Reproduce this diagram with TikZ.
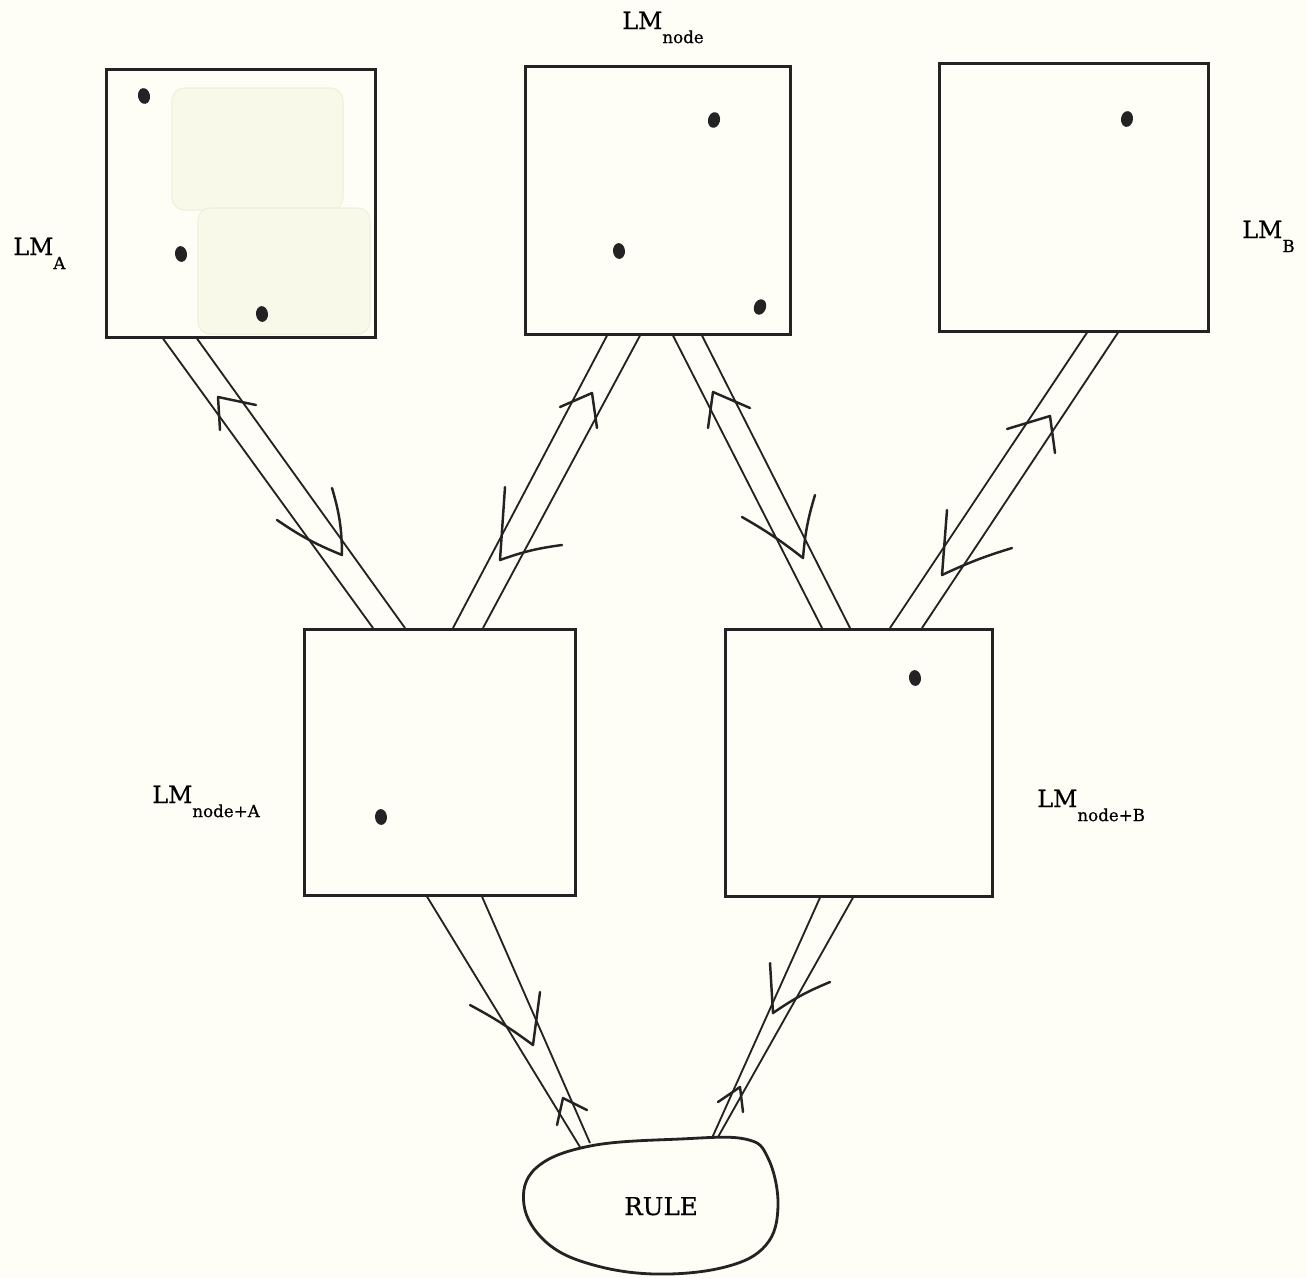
\documentclass[tikz,border=0pt]{standalone}
\usepackage{fontspec}
\setmainfont{DejaVu Serif}
\newfontfamily\tagfont[FakeBold=0.6]{DejaVu Serif}
\usetikzlibrary{calc}
\definecolor{paper}{RGB}{254,254,247}
\definecolor{ink}{RGB}{35,35,35}
\definecolor{tape}{RGB}{249,249,234}
\definecolor{tapeedge}{RGB}{238,240,218}

% label of a language model: large "LM" with a dropped subscript
\newcommand\lmlabel[1]{{\fontsize{13.5}{16}\selectfont LM}\raisebox{-8pt}{\fontsize{9.5}{11}\selectfont #1}}

\begin{document}
\begin{tikzpicture}[x=0.02cm,y=-0.02cm,
  lmbox/.style={draw=ink, line width=1.5pt, anchor=north west, inner sep=0pt},
  shaft/.style={draw=ink, line width=1.05pt},
  chev/.style={draw=ink, line width=1.4pt, line join=round, line cap=round},
  spot/.style={fill=ink},
  lbl/.style={anchor=base west, inner sep=0pt, text=black, font=\tagfont},
  tapestrip/.style={fill=tape, draw=tapeedge, line width=0.6pt, rounded corners=7pt}]

% paper
\fill[paper] (0,0) rectangle (1307,1278);
\useasboundingbox (0,0) rectangle (1307,1278);

% strips of tape inside the first box
\draw[tapestrip] (172,88) rectangle (343,210);
\draw[tapestrip] (198,208) rectangle (370,334);

% boxes
\node[lmbox, minimum width=5.38cm, minimum height=5.36cm] (A)  at (105,68)  {};
\node[lmbox, minimum width=5.30cm, minimum height=5.36cm] (N)  at (524,65)  {};
\node[lmbox, minimum width=5.38cm, minimum height=5.36cm] (B)  at (938,62)  {};
\node[lmbox, minimum width=5.42cm, minimum height=5.32cm] (NA) at (303,628) {};
\node[lmbox, minimum width=5.34cm, minimum height=5.34cm] (NB) at (724,628) {};

% labels
\node[lbl] (labA)  at (13,255)   {\lmlabel{A}};
\node[lbl] (labN)  at (622,29)   {\lmlabel{node}};
\node[lbl] (labB)  at (1242,238) {\lmlabel{B}};
\node[lbl] (labNA) at (152,803)  {\lmlabel{node+A}};
\node[lbl] (labNB) at (1037,807) {\lmlabel{node+B}};

% points inside the boxes
\foreach \p/\r in {(144,96)/10,(181,254)/8,(262,314)/5,
                   (714,120)/-12,(619,251)/5,(760,307)/-20,
                   (1127,119)/-8,(381,817)/4,(915,678)/6}
  \fill[spot] \p ellipse[x radius=3.4pt, y radius=4.5pt, rotate=\r];

% the rule
\draw[ink, line width=1.6pt] plot[smooth cycle, tension=0.65] coordinates
  {(590,1146) (680,1139) (745,1139) (768,1158) (778,1205) (766,1245)
   (725,1267) (655,1274) (590,1264) (546,1242) (524,1205) (536,1168)};
\node[anchor=base, inner sep=0pt, text=black, font=\tagfont\fontsize{14}{16}\selectfont] (rule) at (661,1215) {RULE};

% ends of the connectors on the rule
\coordinate (r1) at (580,1147);
\coordinate (r2) at (590,1143);
\coordinate (r3) at (712,1138);
\coordinate (r4) at (718,1137);

% double-line connectors
\draw[shaft] ($(A.south west)+(58,0)$)  -- ($(NA.north west)+(70,0)$);
\draw[shaft] ($(A.south west)+(92,0)$)  -- ($(NA.north west)+(102,0)$);
\draw[shaft] ($(N.south west)+(83,0)$)  -- ($(NA.north west)+(150,0)$);
\draw[shaft] ($(N.south west)+(116,0)$) -- ($(NA.north west)+(180,0)$);
\draw[shaft] ($(N.south west)+(149,0)$) -- ($(NB.north west)+(98,0)$);
\draw[shaft] ($(N.south west)+(178,0)$) -- ($(NB.north west)+(126,0)$);
\draw[shaft] ($(B.south west)+(149,0)$) -- ($(NB.north west)+(166,0)$);
\draw[shaft] ($(B.south west)+(180,0)$) -- ($(NB.north west)+(198,0)$);
\draw[shaft] ($(NA.south west)+(124,0)$) -- (r1);
\draw[shaft] ($(NA.south west)+(179,0)$) -- (r2);
\draw[shaft] ($(NB.south west)+(96,0)$)  -- (r3);
\draw[shaft] ($(NB.south west)+(129,0)$) -- (r4);

% hand-drawn chevrons, one for each direction
\draw[chev] (220,430) -- (218,397) -- (256,405);
\draw[chev] (332,488) to[bend left=8] (342,555) to[bend left=6] (277,520);
\draw[chev] (560,407) -- (592,393) -- (597,428);
\draw[chev] (505,487) -- (500,560) to[bend left=6] (562,545);
\draw[chev] (708,428) -- (713,392) -- (750,408);
\draw[chev] (815,495) to[bend right=6] (803,558) to[bend right=4] (742,517);
\draw[chev] (1007,429) -- (1050,416) -- (1055,453);
\draw[chev] (947,510) -- (942,575) to[bend left=4] (1012,548);
\draw[chev] (540,992) -- (533,1045) to[bend right=4] (470,1005);
\draw[chev] (557,1125) -- (563,1098) -- (587,1110);
\draw[chev] (770,963) -- (773,1013) to[bend left=6] (830,982);
\draw[chev] (718,1102) -- (740,1087) -- (743,1112);
\end{tikzpicture}
\end{document}
